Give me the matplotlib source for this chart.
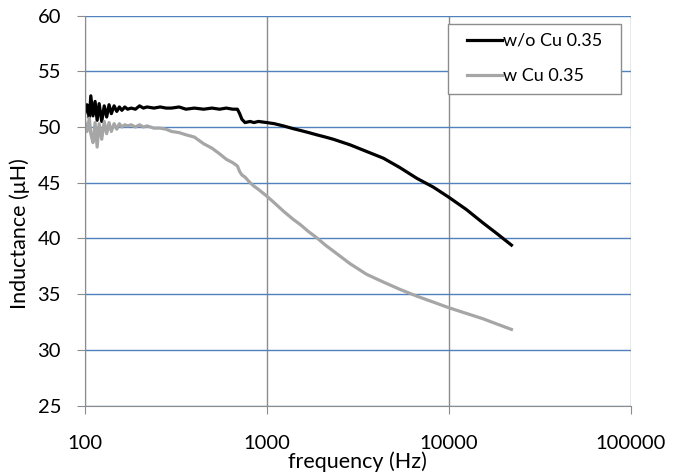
import matplotlib
matplotlib.use('Agg')
import matplotlib.pyplot as plt
from matplotlib.patches import Rectangle

plt.rcParams['font.family'] = ['Lato', 'DejaVu Sans']

# frequency points (Hz) shared by both curves
freq = [100, 103, 106, 108, 111, 114, 117, 120, 124, 128, 132, 136, 140, 145, 150,
        155, 160, 166, 172, 180, 190, 200, 210, 220, 240, 260, 280, 300, 330, 360,
        400, 450, 500, 550, 600, 650, 690, 710, 730, 760, 810, 850, 900, 1000, 1100,
        1234, 1400, 1524, 1700, 1883, 2100, 2324, 2870, 3543, 4376, 5400, 6670, 8235,
        10000, 12480, 15400, 18500, 22100]

# inductance without Cu (uH)
wo_cu = [51.2, 52.0, 50.8, 52.8, 51.0, 52.3, 50.6, 52.1, 50.5, 51.9, 50.9, 52.0, 51.2, 51.9, 51.4,
         51.8, 51.5, 51.8, 51.6, 51.7, 51.6, 51.9, 51.7, 51.8, 51.7, 51.8, 51.7, 51.7, 51.8, 51.6,
         51.7, 51.6, 51.7, 51.6, 51.7, 51.6, 51.6, 51.2, 50.7, 50.4, 50.5, 50.4, 50.5, 50.4, 50.3,
         50.1, 49.85, 49.7, 49.5, 49.3, 49.1, 48.9, 48.4, 47.8, 47.2, 46.35, 45.4, 44.6,
         43.7, 42.6, 41.4, 40.4, 39.4]

# inductance with Cu (uH)
w_cu = [50.5, 49.6, 50.8, 49.4, 48.6, 50.4, 48.2, 50.3, 48.9, 50.5, 49.4, 50.4, 49.6, 50.3, 49.8,
        50.3, 50.0, 50.2, 50.1, 50.2, 50.0, 50.2, 50.0, 50.1, 49.9, 49.9, 49.8, 49.6, 49.5, 49.3,
        49.1, 48.5, 48.1, 47.6, 47.1, 46.8, 46.5, 46.0, 45.7, 45.5, 45.0, 44.7, 44.4, 43.8, 43.2,
        42.45, 41.7, 41.26, 40.6, 40.06, 39.4, 38.86, 37.73, 36.77, 36.08, 35.42, 34.82, 34.28,
        33.78, 33.27, 32.79, 32.3, 31.83]

W, H = 680, 475
fig = plt.figure(figsize=(W / 100, H / 100), dpi=100)
ax = fig.add_axes([0.1246, 0.1463, 0.803, 0.8208])

ax.plot(freq, wo_cu, color='black', lw=2.3, label='w/o Cu 0.35')
ax.plot(freq, w_cu, color='#a6a6a6', lw=2.3, label='w Cu 0.35')

ax.set_xscale('log')
ax.set_xlim(100, 100000)
ax.set_ylim(25, 60)
ax.set_xticks([100, 1000, 10000, 100000])
ax.set_xticklabels(['100', '1000', '10000', '100000'])
ax.set_yticks(range(25, 61, 5))
ax.minorticks_off()

ax.grid(axis='y', color='#4f81bd', lw=1)
ax.grid(axis='x', color='#8c8c8c', lw=1)
ax.set_axisbelow(True)

for s in ['top', 'right']:
    ax.spines[s].set_visible(False)
for s in ['left', 'bottom']:
    ax.spines[s].set_color('#8c8c8c')

ax.tick_params(axis='x', length=6, color='#8c8c8c', pad=15, labelsize=14.5)
ax.tick_params(axis='y', length=6, color='#8c8c8c', pad=11, labelsize=14.5)

ax.set_xlabel('frequency (Hz)', fontsize=15.5, labelpad=0)
ax.set_ylabel('Inductance (μH)', fontsize=15.5)
ax.yaxis.set_label_coords(-0.1, 0.44)

# legend box drawn separately so the padding can differ horizontally / vertically
box = Rectangle((448 / W, 1 - 94 / H), 173 / W, 70 / H, transform=fig.transFigure,
                facecolor='white', edgecolor='#8c8c8c', lw=1, zorder=4, clip_on=False)
ax.add_patch(box)
leg = ax.legend(loc='upper left', bbox_to_anchor=(467 / W, 1 - 33 / H),
                bbox_transform=fig.transFigure, fontsize=13, frameon=False,
                handlelength=1.94, handletextpad=0.05, labelspacing=1.05,
                borderpad=0, borderaxespad=0)
leg.set_zorder(5)

fig.savefig('out.png', dpi=100)
